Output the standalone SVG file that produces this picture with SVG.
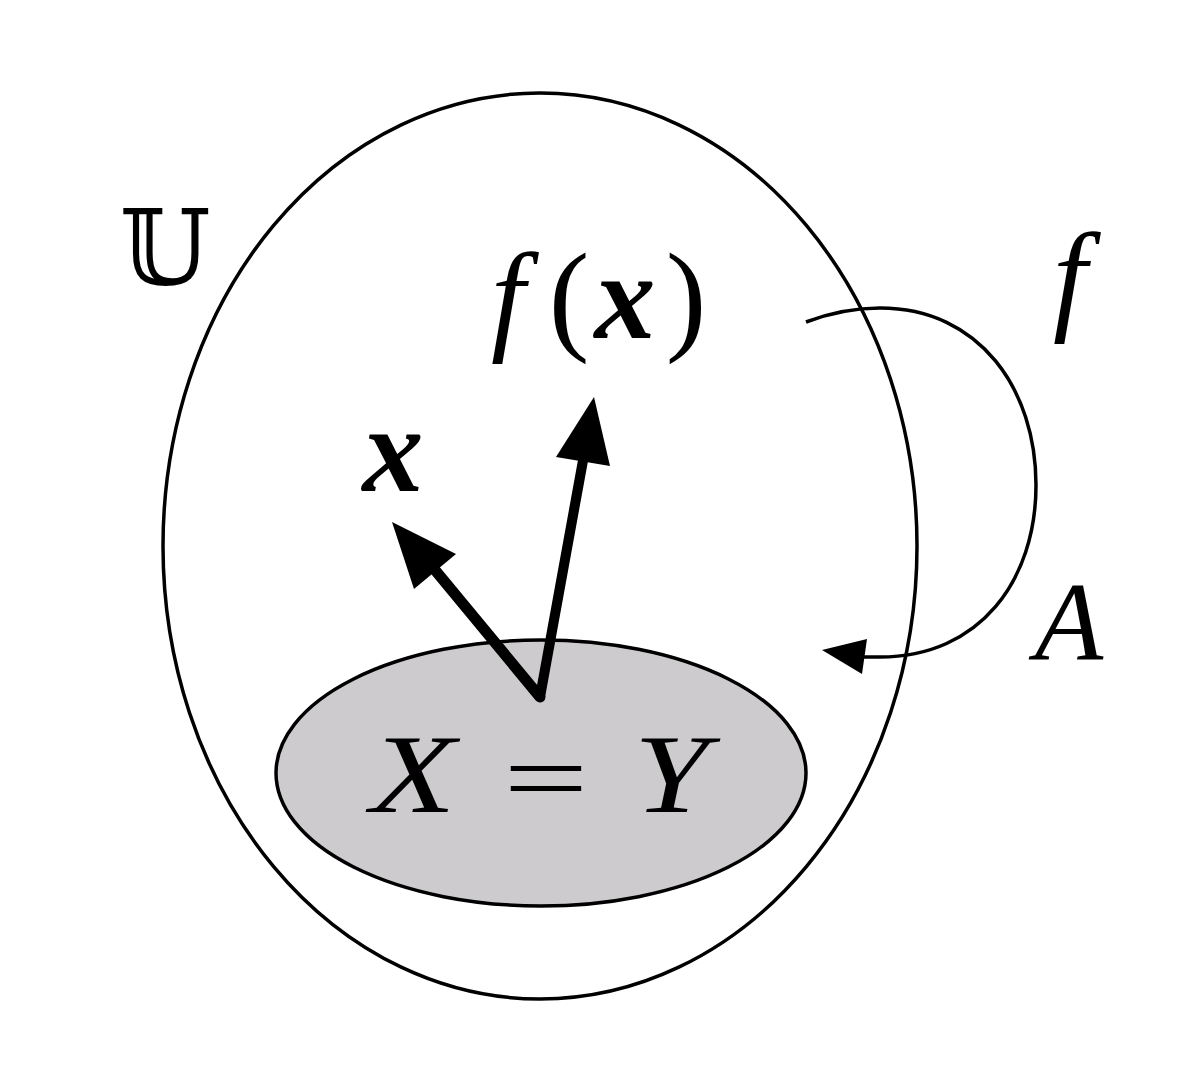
<svg xmlns="http://www.w3.org/2000/svg" width="1186" height="1084" viewBox="0 0 1186 1084">
<style>
.ln{fill:none;stroke:#000;stroke-width:3.5}
.t{font-family:'Times New Roman','Liberation Serif',Times,serif;font-style:italic;fill:#000;text-anchor:middle}
.r{font-family:'Times New Roman','Liberation Serif',Times,serif;fill:#000;text-anchor:middle}
.b{font-weight:bold}
.ar{fill:#000}
</style>
<rect width="1186" height="1084" fill="#fff"/>
<g id="universe">
<ellipse cx="540" cy="546" rx="377" ry="453" class="ln"/>
<text x="165" y="285" text-anchor="middle" font-family="'DejaVu Serif', 'DejaVu Sans', serif" font-size="104" fill="#000">𝕌</text>
</g>
<g id="setXY">
<ellipse cx="541" cy="773" rx="265" ry="133" fill="#cdcbce" stroke="#000" stroke-width="3.5"/>
<text class="t" transform="translate(413,812) scale(1.25,1)" font-size="112">X</text>
<text class="r" transform="translate(546,812) scale(1.35,0.9)" font-size="112">=</text>
<text class="t" transform="translate(671,812) scale(1.2,1)" font-size="112">Y</text>
</g>
<g id="label-fx">
<text class="t" x="508" y="338" font-size="122">f</text>
<text class="r" x="569" y="338" font-size="122">(</text>
<text class="t b" x="625" y="338" font-size="122">x</text>
<text class="r" x="686" y="338" font-size="122">)</text>
</g>
<g id="label-x">
<text class="t b" x="393" y="491" font-size="122">x</text>
</g>
<g id="label-f">
<text class="t" x="1070" y="318" font-size="122">f</text>
</g>
<g id="label-A">
<text class="t" x="1069" y="660" font-size="112">A</text>
</g>
<g id="connectors">
<path d="M540,697 L584,455" stroke="#000" stroke-width="10" stroke-linecap="round" fill="none"/>
<polygon class="ar" points="594,397 556,457 610,466"/>
<path d="M540,697 L435,570" stroke="#000" stroke-width="11" stroke-linecap="round" fill="none"/>
<polygon class="ar" points="392,522 414,589 456,554"/>
<path class="ln" d="M806,322 C830,313 855,308 880,308 C980,308 1036,390 1036,485 C1036,580 980,657 880,657 L862,657"/>
<polygon class="ar" points="822,650 867,639 862,674"/>
</g>
</svg>
